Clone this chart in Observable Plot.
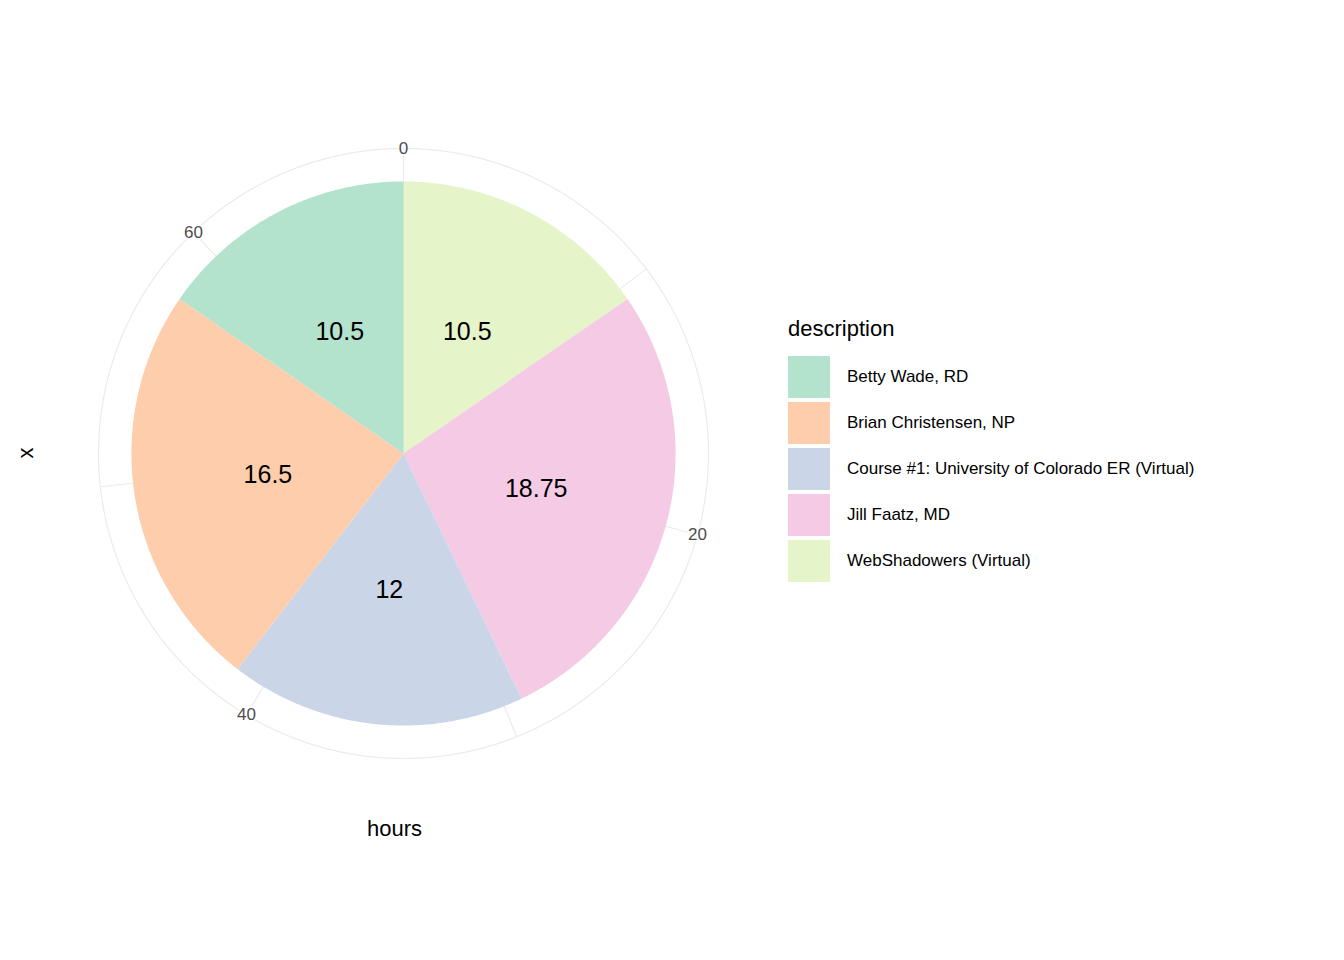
<!DOCTYPE html>
<html>
<head>
<meta charset="utf-8">
<script src="https://cdn.jsdelivr.net/npm/d3@7"></script>
<script src="https://cdn.jsdelivr.net/npm/@observablehq/plot@0.6"></script>
<style>
  body { margin: 0; background: #fff; font-family: Arial, "Liberation Sans", sans-serif; }
  #wrap { position: relative; width: 1344px; height: 960px; }
  #legend { position: absolute; left: 788px; top: 316px; color: #000; }
  #legend .title { font-size: 22px; margin-bottom: 12px; }
  #legend .item { display: flex; align-items: center; height: 46px; font-size: 17px; }
  #legend .sw { width: 42px; height: 42px; margin-right: 17px; }
  .axlab { position: absolute; font-size: 22px; color: #000; }
</style>
</head>
<body>
<div id="wrap">
  <div id="chart"></div>
  <div class="axlab" style="left:367px; top:816px;">hours</div>
  <div class="axlab" style="left:20px; top:440px; transform: rotate(-90deg);">x</div>
  <div id="legend"></div>
</div>
<script>
  // slices in clockwise order from the top
  var descriptions = ["WebShadowers (Virtual)", "Jill Faatz, MD", "Course #1: University of Colorado ER (Virtual)", "Brian Christensen, NP", "Betty Wade, RD"];
  var hours = [10.5, 18.75, 12, 16.5, 10.5];
  var legendOrder = ["Betty Wade, RD", "Brian Christensen, NP", "Course #1: University of Colorado ER (Virtual)", "Jill Faatz, MD", "WebShadowers (Virtual)"];
  var colors = ["#B3E2CD", "#FDCDAC", "#CBD5E8", "#F4CAE4", "#E6F5C9"];
  var ticks = [0, 20, 40, 60];
  var minorTicks = [0, 10, 20, 30, 40, 50, 60];

  var total = d3.sum(hours);
  var pieR = 0.892, labelR = 0.45;
  function ang(h) { return h / total * 2 * Math.PI; }
  function px(h, r) { return r * Math.sin(ang(h)); }
  function py(h, r) { return r * Math.cos(ang(h)); }

  var slices = [], labels = [], cum = 0;
  hours.forEach(function(v, i) {
    var start = cum, end = cum + v, n = Math.ceil(v / total * 720);
    slices.push({ x: 0, y: 0, d: descriptions[i] });
    for (var k = 0; k <= n; k += 1) {
      var h = start + (end - start) * k / n;
      slices.push({ x: px(h, pieR), y: py(h, pieR), d: descriptions[i] });
    }
    slices.push({ x: 0, y: 0, d: descriptions[i] });
    labels.push({ x: px(start + v / 2, labelR), y: py(start + v / 2, labelR), t: String(v) });
    cum = end;
  });

  var circle = d3.range(0, 361).map(function(a) {
    var h = a / 360 * total;
    return { x: px(h, 1), y: py(h, 1) };
  });

  var colorMap = {};
  legendOrder.forEach(function(d, i) { colorMap[d] = colors[i]; });

  var plot = Plot.plot({
    width: 1344, height: 960,
    marginLeft: 98, marginRight: 636, marginTop: 148, marginBottom: 202,
    x: { domain: [-1, 1], axis: null },
    y: { domain: [-1, 1], axis: null },
    marks: [
      Plot.line(circle, { x: "x", y: "y", stroke: "#ebebeb", strokeWidth: 1.2 }),
      Plot.link(minorTicks, { x1: 0, y1: 0, x2: function(h) { return px(h, 1); }, y2: function(h) { return py(h, 1); }, stroke: "#ebebeb", strokeWidth: 1.2 }),
      Plot.line(slices, { x: "x", y: "y", z: "d", fill: function(d) { return colorMap[d.d]; }, stroke: "none", curve: "linear" }),
      Plot.text(ticks, { x: function(h) { return px(h, 1.0); }, y: function(h) { return py(h, 1.0); }, text: function(h) { return String(h); }, fill: "#4d4d4d", fontSize: 17, stroke: "white", strokeWidth: 3 }),
      Plot.text(labels, { x: "x", y: "y", text: "t", fill: "#000", fontSize: 25 })
    ]
  });
  plot.style.fontFamily = "Arial, 'Liberation Sans', sans-serif";
  document.getElementById("chart").appendChild(plot);

  var legend = document.getElementById("legend");
  var title = document.createElement("div");
  title.className = "title";
  title.textContent = "description";
  legend.appendChild(title);
  legendOrder.forEach(function(d) {
    var item = document.createElement("div");
    item.className = "item";
    var sw = document.createElement("div");
    sw.className = "sw";
    sw.style.background = colorMap[d];
    var lab = document.createElement("span");
    lab.textContent = d;
    item.appendChild(sw);
    item.appendChild(lab);
    legend.appendChild(item);
  });
</script>
</body>
</html>
